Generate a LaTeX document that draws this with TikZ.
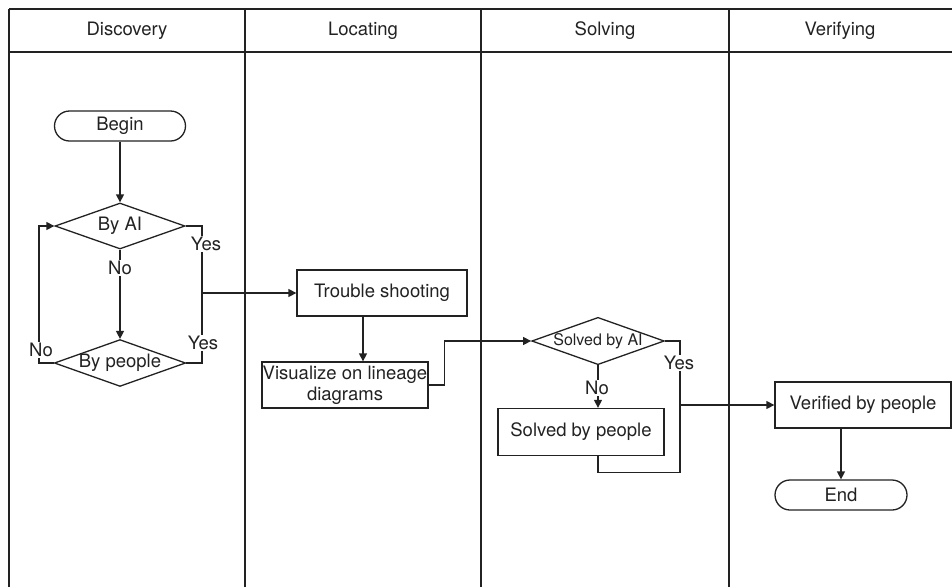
\documentclass[tikz,border=0pt]{standalone}
\usepackage{fontspec}
\setmainfont{TeX Gyre Heros}
\usetikzlibrary{shapes.geometric,arrows.meta}
\definecolor{inkgray}{HTML}{222222}

\begin{document}
\begin{tikzpicture}[x=1pt,y=-1pt,
  every node/.style={font=\fontsize{18.5}{21}\selectfont, text=inkgray},
  conn/.style={draw=inkgray, line width=1.3pt},
  arr/.style={conn, -{Triangle[length=8pt,width=8pt]}},
  term/.style={conn, rectangle, rounded corners=15pt, minimum width=131pt, minimum height=30pt, inner sep=0pt},
  proc/.style={conn, rectangle, minimum height=46pt, inner sep=0pt, align=center},
  dec/.style={conn, diamond, shape aspect=2.8, inner sep=0pt, minimum width=130pt, minimum height=46pt},
  lbl/.style={fill=white, inner sep=1pt}]
  \useasboundingbox (0,0) rectangle (952,587);

  % swimlane table
  \draw[conn] (9,9) -- (952,9);
  \draw[conn] (9,52) -- (952,52);
  \foreach \lx in {9,245,481,729}
    \draw[conn] (\lx,9) -- (\lx,587);
  \node (hdisc) at (127,31) {Discovery};
  \node (hloc)  at (363,31) {Locating};
  \node (hsolv) at (605,31) {Solving};
  \node (hver)  at (840,31) {Verifying};

  % discovery
  \node[term] (begin) at (120,126) {Begin};
  \node[dec] (byai) at (120,226) {By AI};
  \node[dec] (bypeople) at (120,363) {By people};
  \coordinate (loopl) at (39,226);
  \coordinate (join1) at (202,293);

  % locating
  \node[proc, minimum width=170pt] (trouble) at (382,293) {Trouble shooting};
  \node[proc, minimum width=166pt] (visual) at (345,385) {Visualize on lineage\\diagrams};

  % solving
  \node[dec, font=\fontsize{16}{18}\selectfont] (solvedai) at (598,341) {Solved by AI};
  \node[proc, minimum width=166pt, minimum height=47pt] (solvedpeople) at (581,432) {Solved by people};
  \coordinate (join2) at (680,405);

  % verifying
  \node[proc, minimum width=176pt] (verified) at (863,405) {Verified by people};
  \node[term, minimum width=132pt] (endn) at (841,495) {End};

  % connectors
  \draw[arr] (begin) -- (byai);
  \draw[arr] (byai.south) -- (bypeople.north);
  \draw[arr] (bypeople.west) -| (loopl) -- (byai.west);
  \draw[conn] (byai.east) -| (join1);
  \draw[conn] (bypeople.east) -| (join1);
  \draw[arr] (join1) -- (trouble.west);
  \draw[arr] ([xshift=-19pt]trouble.south) -- ([xshift=-19pt]trouble.south |- visual.north);
  \draw[arr] (visual.east) -- ++(16,0) |- (solvedai.west);
  \draw[arr] (solvedai.south) -- (solvedai.south |- solvedpeople.north);
  \draw[conn] (solvedai.east) -| (join2);
  \draw[conn] (solvedai.south |- solvedpeople.south) -- ++(0,16) -| (join2);
  \draw[arr] (join2) -- (verified.west);
  \draw[arr] (verified.south -| endn.north) -- (endn.north);

  % branch labels
  \node[lbl] (noai) at (120,268) {No};
  \node[lbl] (nopeople) at (41,350) {No};
  \node[lbl] (yesai) at (206,244) {Yes};
  \node[lbl] (yespeople) at (203,343) {Yes};
  \node[lbl] (nosolved) at (597,388) {No};
  \node[lbl] (yessolved) at (679,363) {Yes};
\end{tikzpicture}
\end{document}
